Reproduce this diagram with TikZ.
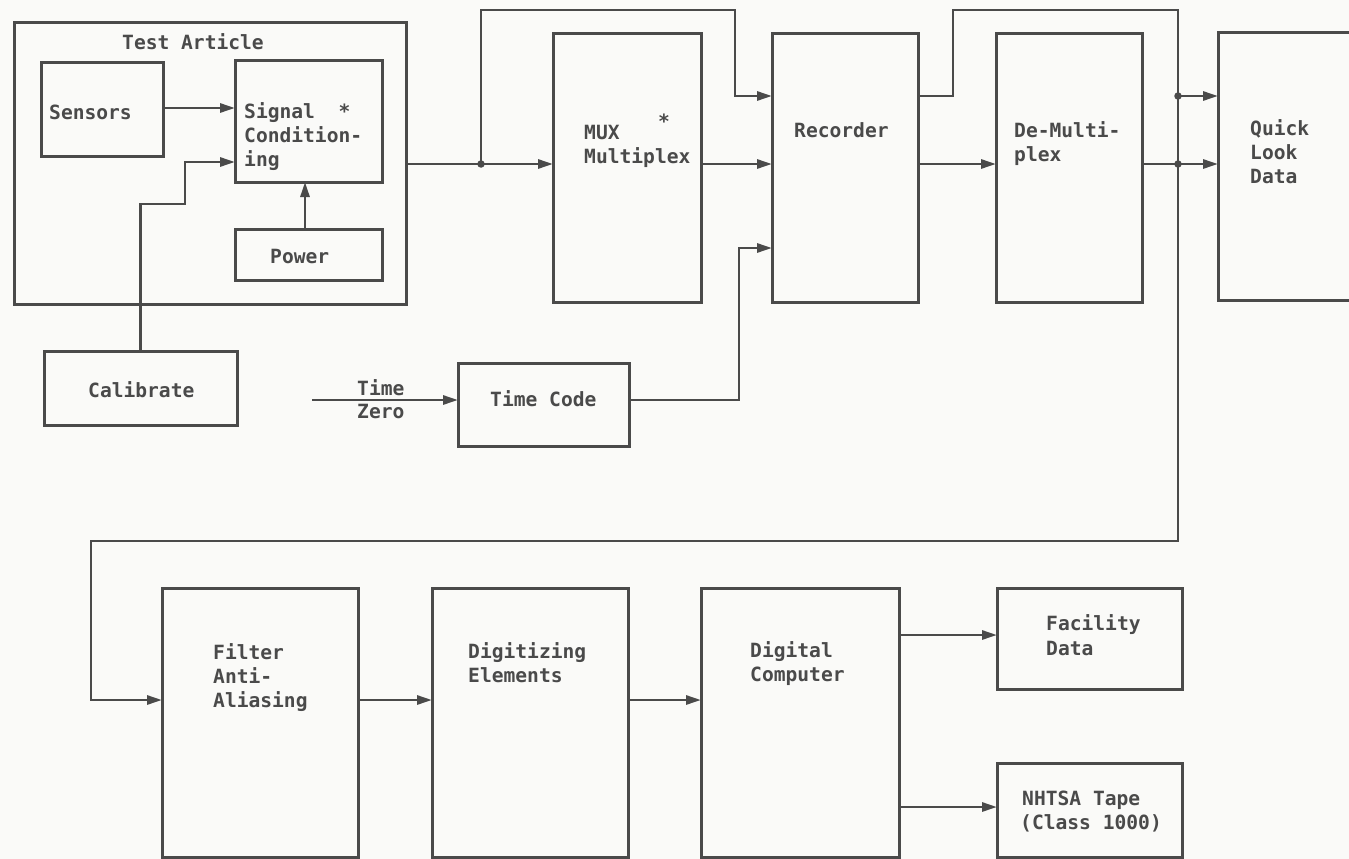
\documentclass[tikz,border=0pt]{standalone}
\usepackage{fontspec}
\newfontfamily\tw{DejaVu Sans Mono}
\usetikzlibrary{arrows.meta}
\definecolor{ink}{HTML}{4A4A4A}
\definecolor{paper}{HTML}{FAFAF8}
\begin{document}
\begin{tikzpicture}[x=1pt,y=-1pt,
  box/.style={draw=ink, line width=3pt, inner sep=0pt, outer sep=0pt},
  lbl/.style={anchor=base west, inner sep=0pt, text=ink, font=\tw\bfseries\fontsize{19.6}{24}\selectfont},
  wire/.style={draw=ink, line width=2.8pt},
  arr/.style={wire, -{Triangle[length=15pt,width=9pt]}},
  dot/.style={circle, fill=ink, inner sep=0pt, minimum size=7.5pt}]
\fill[paper] (0,0) rectangle (1349,859);
\useasboundingbox (0,0) rectangle (1349,859);

% boxes
\node[box, minimum width=392pt, minimum height=281pt] (ta) at (210,163.5) {};
\node[box, minimum width=122pt, minimum height=93pt] (sens) at (102,109.5) {};
\node[box, minimum width=147pt, minimum height=121pt] (sig) at (308.5,121.5) {};
\node[box, minimum width=147pt, minimum height=51pt] (pow) at (308.5,254.5) {};
\node[box, minimum width=193pt, minimum height=74pt] (cal) at (140.5,388) {};
\node[box, minimum width=171pt, minimum height=83pt] (tc) at (543.5,404.5) {};
\node[box, minimum width=148pt, minimum height=268pt] (mux) at (627,168) {};
\node[box, minimum width=146pt, minimum height=268pt] (rec) at (845,168) {};
\node[box, minimum width=146pt, minimum height=268pt] (dem) at (1069,168) {};
\node[box, minimum width=182pt, minimum height=267pt] (ql) at (1309,166.5) {};
\node[box, minimum width=196pt, minimum height=269pt] (fil) at (260,722.5) {};
\node[box, minimum width=196pt, minimum height=269pt] (dig) at (530,722.5) {};
\node[box, minimum width=198pt, minimum height=269pt] (comp) at (800,722.5) {};
\node[box, minimum width=185pt, minimum height=101pt] (fac) at (1089.5,638.5) {};
\node[box, minimum width=185pt, minimum height=94pt] (nht) at (1089.5,810) {};

% labels
\node[lbl] (taT) at (122,50) {Test Article};
\node[lbl] (sensT) at (49,119) {Sensors};
\node[lbl] (sigT1) at (244,118) {Signal\ \ *};
\node[lbl] (sigT2) at (244,142) {Condition-};
\node[lbl] (sigT3) at (244,166) {ing};
\node[lbl] (powT) at (270,263) {Power};
\node[lbl] (calT) at (88,397) {Calibrate};
\node[lbl] (tcT) at (490,406) {Time Code};
\node[lbl] (tzT1) at (357,395) {Time};
\node[lbl] (tzT2) at (357,418) {Zero};
\node[lbl] (muxT1) at (584,139) {MUX};
\node[lbl] (muxT2) at (584,163) {Multiplex};
\node[lbl] (muxS) at (658,128) {*};
\node[lbl] (recT) at (794,137) {Recorder};
\node[lbl] (demT1) at (1014,137) {De-Multi-};
\node[lbl] (demT2) at (1014,161) {plex};
\node[lbl] (qlT1) at (1250,135) {Quick};
\node[lbl] (qlT2) at (1250,159) {Look};
\node[lbl] (qlT3) at (1250,183) {Data};
\node[lbl] (filT1) at (213,659) {Filter};
\node[lbl] (filT2) at (213,683) {Anti-};
\node[lbl] (filT3) at (213,707) {Aliasing};
\node[lbl] (digT1) at (468,658) {Digitizing};
\node[lbl] (digT2) at (468,682) {Elements};
\node[lbl] (compT1) at (750,657) {Digital};
\node[lbl] (compT2) at (750,681) {Computer};
\node[lbl] (facT1) at (1046,630) {Facility};
\node[lbl] (facT2) at (1046,655) {Data};
\node[lbl] (nhtT1) at (1022,805) {NHTSA Tape};
\node[lbl] (nhtT2) at (1020,829) {(Class 1000)};

% junctions and bends
\node[dot] (j1) at (481,164) {};
\node[dot] (j2) at (1178,96) {};
\node[dot] (j3) at (1178,164) {};
\coordinate (c1) at (185,204);
\coordinate (c2) at (185,162);
\coordinate (u1) at (481,10);
\coordinate (u2) at (735,10);
\coordinate (u3) at (735,96);
\coordinate (t1) at (739,400);
\coordinate (t2) at (739,248);
\coordinate (tz) at (312,400);
\coordinate (r1) at (953,96);
\coordinate (r2) at (953,10);
\coordinate (r3) at (1178,10);
\coordinate (f1) at (1178,541);
\coordinate (f2) at (91,541);
\coordinate (f3) at (91,700);
\coordinate (k1) at (900,635);
\coordinate (k2) at (900,807);
\coordinate (s1) at (163,108);
\coordinate (p1) at (305,229);

% connectors
\draw[arr] (s1) -- (s1 -| sig.west);
\draw[arr] (cal.north) |- (c1) -- (c2) -- (c2 -| sig.west);
\draw[arr] (p1) -- (p1 |- sig.south);
\draw[wire] (ta.east |- j1) -- (j1.center);
\draw[arr] (j1.center) -- (j1 -| mux.west);
\draw[arr] (j1.center) -- (u1) -- (u2) -- (u3) -- (u3 -| rec.west);
\draw[arr] (mux.east |- j1) -- (j1 -| rec.west);
\draw[arr] (tz) -- (tz -| tc.west);
\draw[arr] (tc.east |- t1) -- (t1) -- (t2) -- (t2 -| rec.west);
\draw[arr] (rec.east |- j1) -- (j1 -| dem.west);
\draw[wire] (rec.east |- r1) -- (r1) -- (r2) -- (r3) -- (j2.center);
\draw[arr] (j2.center) -- (j2 -| ql.west);
\draw[wire] (dem.east |- j3) -- (j3.center);
\draw[arr] (j3.center) -- (j3 -| ql.west);
\draw[wire] (j2.center) -- (j3.center);
\draw[arr] (j3.center) -- (f1) -- (f2) -- (f3) -- (f3 -| fil.west);
\draw[arr] (fil.east |- f3) -- (f3 -| dig.west);
\draw[arr] (dig.east |- f3) -- (f3 -| comp.west);
\draw[arr] (comp.east |- k1) -- (k1 -| fac.west);
\draw[arr] (comp.east |- k2) -- (k2 -| nht.west);
\end{tikzpicture}
\end{document}
